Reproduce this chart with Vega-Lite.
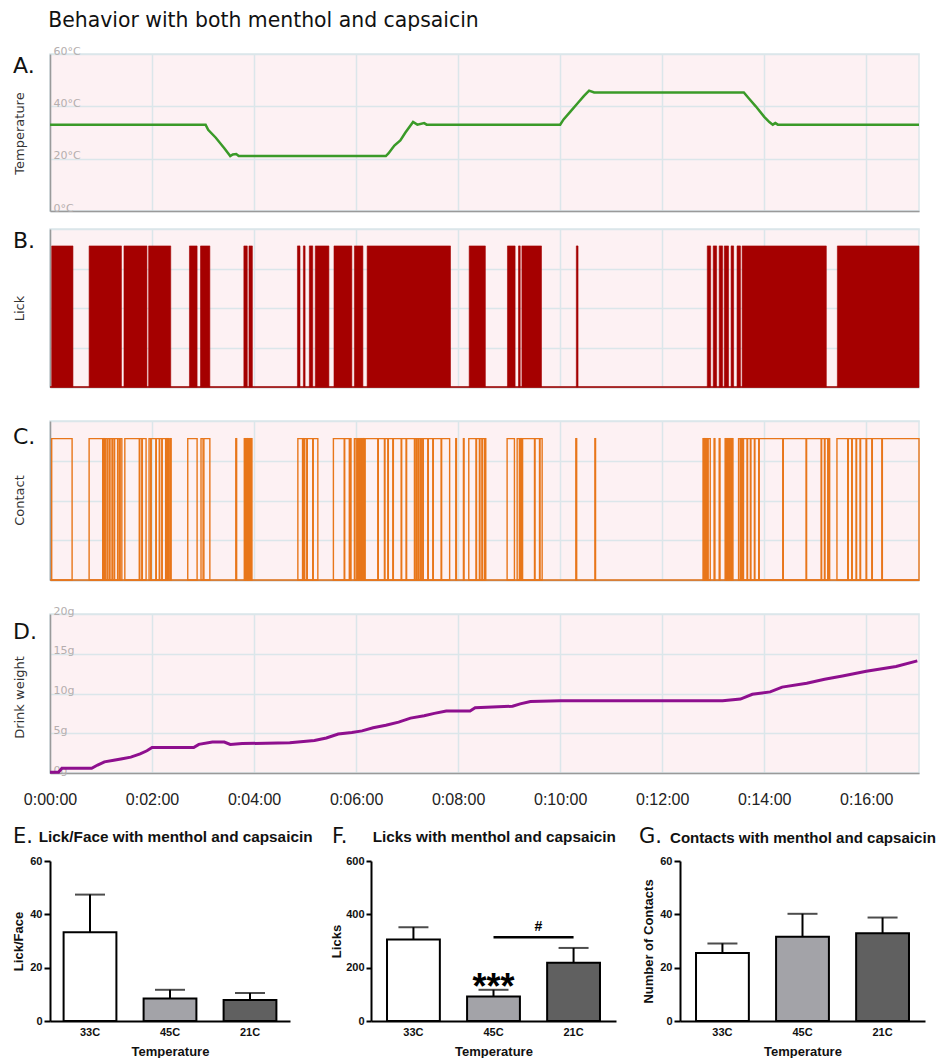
{
  "$schema": "https://vega.github.io/schema/vega-lite/v6.json",
  "padding": {"left": 12, "top": 10, "right": 0, "bottom": 0},
  "background": "white",
  "title": {"text": "Behavior with both menthol and capsaicin", "anchor": "start", "dx": 36, "offset": -3, "baseline": "alphabetic", "fontSize": 20.4, "font": "DejaVu Sans", "fontWeight": "normal", "color": "#111"},
  "config": {"view": {"stroke": null}},
  "datasets": {
    "temperature": [
      {"t": 0, "temp": 33}, {"t": 183, "temp": 33}, {"t": 186, "temp": 31}, {"t": 195, "temp": 28}, {"t": 205, "temp": 24}, {"t": 212, "temp": 21}, {"t": 215, "temp": 21.6}, {"t": 219, "temp": 21.8}, {"t": 222, "temp": 21}, {"t": 395, "temp": 21}, {"t": 398, "temp": 22}, {"t": 405, "temp": 25}, {"t": 412, "temp": 27}, {"t": 418, "temp": 30}, {"t": 427, "temp": 34}, {"t": 432, "temp": 33}, {"t": 440, "temp": 33.6}, {"t": 443, "temp": 33}, {"t": 600, "temp": 33}, {"t": 604, "temp": 35}, {"t": 612, "temp": 38}, {"t": 620, "temp": 41}, {"t": 628, "temp": 44}, {"t": 634, "temp": 46}, {"t": 640, "temp": 45.3}, {"t": 816, "temp": 45.3}, {"t": 822, "temp": 43}, {"t": 830, "temp": 40}, {"t": 840, "temp": 36}, {"t": 846, "temp": 34}, {"t": 850, "temp": 33}, {"t": 853, "temp": 33.6}, {"t": 856, "temp": 33}, {"t": 1022, "temp": 33}
    ],
    "lick": [
      {"s": 2, "e": 27}, {"s": 46, "e": 84}, {"s": 87, "e": 114}, {"s": 116, "e": 142}, {"s": 164, "e": 173}, {"s": 177, "e": 188}, {"s": 228, "e": 232}, {"s": 234, "e": 238}, {"s": 291, "e": 294}, {"s": 298, "e": 300}, {"s": 305, "e": 309}, {"s": 312, "e": 328}, {"s": 334, "e": 355}, {"s": 358, "e": 368}, {"s": 373, "e": 471}, {"s": 493, "e": 512}, {"s": 538, "e": 547}, {"s": 551, "e": 553}, {"s": 555, "e": 578}, {"s": 619, "e": 621}, {"s": 773, "e": 777}, {"s": 780, "e": 784}, {"s": 787, "e": 791}, {"s": 793, "e": 798}, {"s": 801, "e": 804}, {"s": 808, "e": 812}, {"s": 814, "e": 913}, {"s": 926, "e": 1022}
    ],
    "contact": [
      {"s": 2, "e": 26},
      {"s": 46, "e": 62}, {"s": 63, "e": 64}, {"s": 65, "e": 67}, {"s": 68, "e": 70}, {"s": 70.5, "e": 73}, {"s": 73.5, "e": 75.5}, {"s": 76, "e": 79.5}, {"s": 80, "e": 82}, {"s": 82.5, "e": 84.5},
      {"s": 88, "e": 105}, {"s": 105.6, "e": 108}, {"s": 108.6, "e": 113},
      {"s": 116.5, "e": 118.5}, {"s": 119, "e": 124.5}, {"s": 125, "e": 128.5}, {"s": 129, "e": 131.5}, {"s": 132, "e": 136}, {"s": 137, "e": 138}, {"s": 139, "e": 140}, {"s": 141, "e": 142.5},
      {"s": 162, "e": 173},
      {"s": 177.6, "e": 180}, {"s": 181, "e": 188},
      {"s": 218.5, "e": 219.5},
      {"s": 228.5, "e": 230}, {"s": 230.5, "e": 232}, {"s": 232.5, "e": 234}, {"s": 234.5, "e": 236}, {"s": 236.5, "e": 237.5},
      {"s": 291.5, "e": 297}, {"s": 297.6, "e": 299}, {"s": 299.6, "e": 302}, {"s": 302.6, "e": 309}, {"s": 309.6, "e": 315},
      {"s": 333.3, "e": 346}, {"s": 346.6, "e": 352}, {"s": 352.6, "e": 354},
      {"s": 358, "e": 360}, {"s": 361, "e": 362.5}, {"s": 363, "e": 364.5}, {"s": 365, "e": 366.5}, {"s": 367, "e": 368.5}, {"s": 369, "e": 370}, {"s": 370.6, "e": 385.5}, {"s": 386.1, "e": 393.3}, {"s": 393.9, "e": 397.3}, {"s": 397.9, "e": 403.2}, {"s": 403.8, "e": 413}, {"s": 413.6, "e": 418.8}, {"s": 419.4, "e": 428.6}, {"s": 429.2, "e": 431}, {"s": 431.6, "e": 433.4}, {"s": 434, "e": 436}, {"s": 436.6, "e": 438.4}, {"s": 439, "e": 444.3}, {"s": 444.9, "e": 450.2}, {"s": 450.8, "e": 460}, {"s": 460.6, "e": 470},
      {"s": 477.2, "e": 478}, {"s": 486.2, "e": 487},
      {"s": 492.5, "e": 501}, {"s": 501.6, "e": 505}, {"s": 505.6, "e": 508}, {"s": 508.6, "e": 511}, {"s": 511.6, "e": 512.5},
      {"s": 537.6, "e": 546.2},
      {"s": 549.4, "e": 552}, {"s": 552.6, "e": 553.6}, {"s": 554.2, "e": 555.2}, {"s": 555.8, "e": 569.8}, {"s": 570.4, "e": 575.7}, {"s": 576.3, "e": 578.8},
      {"s": 618.4, "e": 619.4}, {"s": 640.8, "e": 641.6},
      {"s": 768, "e": 769.5}, {"s": 770, "e": 771.5}, {"s": 772, "e": 773.5}, {"s": 774, "e": 776.5},
      {"s": 781, "e": 782}, {"s": 787, "e": 788},
      {"s": 794, "e": 795.5}, {"s": 796, "e": 797.5}, {"s": 798, "e": 799.5}, {"s": 800, "e": 801.5}, {"s": 802, "e": 803.2},
      {"s": 809.8, "e": 811.8}, {"s": 812.4, "e": 813.4}, {"s": 814, "e": 815}, {"s": 815.6, "e": 819.8}, {"s": 820.4, "e": 823.7}, {"s": 824.3, "e": 828.4}, {"s": 829, "e": 833.5}, {"s": 834.1, "e": 861.8}, {"s": 862.4, "e": 889.2}, {"s": 889.8, "e": 906.9}, {"s": 907.5, "e": 910.8}, {"s": 911.4, "e": 914.7}, {"s": 915.3, "e": 916.9},
      {"s": 925.5, "e": 938.2}, {"s": 938.8, "e": 942.9}, {"s": 943.5, "e": 948}, {"s": 948.6, "e": 952.7}, {"s": 953.3, "e": 959.8}, {"s": 960.4, "e": 966.5}, {"s": 967.1, "e": 978.3}, {"s": 978.9, "e": 1022}
    ],
    "weight": [
      {"t": 0, "w": 0.1}, {"t": 10, "w": 0.1}, {"t": 14, "w": 0.6}, {"t": 49, "w": 0.6}, {"t": 56, "w": 1.0}, {"t": 64, "w": 1.4}, {"t": 75, "w": 1.6}, {"t": 85, "w": 1.8}, {"t": 95, "w": 2.0}, {"t": 106, "w": 2.4}, {"t": 114, "w": 2.8}, {"t": 120, "w": 3.2}, {"t": 169, "w": 3.2}, {"t": 175, "w": 3.6}, {"t": 191, "w": 3.9}, {"t": 205, "w": 3.9}, {"t": 212, "w": 3.6}, {"t": 226, "w": 3.7}, {"t": 282, "w": 3.8}, {"t": 311, "w": 4.1}, {"t": 325, "w": 4.4}, {"t": 339, "w": 4.9}, {"t": 355, "w": 5.1}, {"t": 367, "w": 5.3}, {"t": 380, "w": 5.7}, {"t": 395, "w": 6.0}, {"t": 410, "w": 6.4}, {"t": 424, "w": 6.9}, {"t": 440, "w": 7.2}, {"t": 452, "w": 7.5}, {"t": 466, "w": 7.8}, {"t": 494, "w": 7.8}, {"t": 500, "w": 8.2}, {"t": 544, "w": 8.4}, {"t": 553, "w": 8.7}, {"t": 565, "w": 9.0}, {"t": 600, "w": 9.1}, {"t": 650, "w": 9.1}, {"t": 720, "w": 9.1}, {"t": 791, "w": 9.1}, {"t": 812, "w": 9.3}, {"t": 826, "w": 9.9}, {"t": 847, "w": 10.2}, {"t": 861, "w": 10.8}, {"t": 890, "w": 11.3}, {"t": 911, "w": 11.8}, {"t": 932, "w": 12.2}, {"t": 960, "w": 12.8}, {"t": 995, "w": 13.4}, {"t": 1020, "w": 14.1}
    ],
    "lickface": [
      {"temp": "33C", "mean": 33.3, "err": 47.4}, {"temp": "45C", "mean": 8.4, "err": 11.7}, {"temp": "21C", "mean": 7.9, "err": 10.5}
    ],
    "licks": [
      {"temp": "33C", "mean": 306, "err": 352}, {"temp": "45C", "mean": 92, "err": 117}, {"temp": "21C", "mean": 218, "err": 274}
    ],
    "contacts": [
      {"temp": "33C", "mean": 25.5, "err": 29.1}, {"temp": "45C", "mean": 31.6, "err": 40.2}, {"temp": "21C", "mean": 32.9, "err": 38.8}
    ]
  },
  "columns": 1,
  "spacing": 17,
  "align": "none",
  "concat": [
    {
      "spacing": 31,
      "vconcat": [
        {
          "spacing": 14,
          "vconcat": [
            {
              "width": 869, "height": 157,
              "view": {"fill": "#fdf1f3", "stroke": "#dbe6ea", "strokeWidth": 1.5},
              "title": {"text": "A.", "anchor": "start", "frame": "group", "offset": -50, "dx": -37, "baseline": "alphabetic", "fontSize": 22, "font": "DejaVu Sans", "fontWeight": "normal", "color": "#111"},
              "data": {"name": "temperature"},
              "mark": {"type": "line", "color": "#3a9a28", "strokeWidth": 2.5},
              "encoding": {
                "x": {"field": "t", "type": "quantitative", "scale": {"domain": [0, 1022], "nice": false, "zero": false},
                      "axis": {"values": [0, 120, 240, 360, 480, 600, 720, 840, 960], "labels": false, "ticks": false, "title": null, "grid": true, "gridColor": "#dbe6ea", "gridWidth": 1.5, "domainColor": "#9a9a9a", "domainWidth": 1.5}},
                "y": {"field": "temp", "type": "quantitative", "scale": {"domain": [0, 60], "nice": false},
                      "axis": {"values": [0, 20, 40, 60], "labelExpr": "datum.value + '°C'", "labelAlign": "left", "labelBaseline": "alphabetic", "labelPadding": -3, "labelDy": -4, "labelColor": "#b5aeae", "labelFont": "DejaVu Sans", "labelFontSize": 11, "labelOverlap": false, "labelBound": false, "ticks": false, "tickSize": 0, "minExtent": 0, "maxExtent": 0, "grid": true, "gridColor": "#dbe6ea", "gridWidth": 1.5, "domainColor": "#9a9a9a", "domainWidth": 1.5, "title": "Temperature", "titleX": -31, "titleY": 79, "titleBaseline": "middle", "titleFont": "DejaVu Sans", "titleFontSize": 13, "titleFontWeight": "normal", "titleColor": "#333"}}
              }
            },
            {
              "width": 869, "height": 158,
              "view": {"fill": "#fdf1f3", "stroke": "#dbe6ea", "strokeWidth": 1.5},
              "title": {"text": "B.", "anchor": "start", "frame": "group", "offset": -41, "dx": -37, "baseline": "alphabetic", "fontSize": 22, "font": "DejaVu Sans", "fontWeight": "normal", "color": "#111"},
              "layer": [
                {
                  "data": {"name": "lick"},
                  "mark": {"type": "rect", "color": "#a50000", "stroke": "#a50000", "strokeWidth": 0.6},
                  "encoding": {
                    "x": {"field": "s", "type": "quantitative", "scale": {"domain": [0, 1022], "nice": false, "zero": false},
                          "axis": {"values": [0, 120, 240, 360, 480, 600, 720, 840, 960], "labels": false, "ticks": false, "title": null, "grid": true, "gridColor": "#dbe6ea", "gridWidth": 1.5, "domainColor": "#9a9a9a", "domainWidth": 1.5}},
                    "x2": {"field": "e"},
                    "y": {"datum": 0, "type": "quantitative", "scale": {"domain": [0, 1.12], "nice": false},
                          "axis": {"values": [0.28, 0.56, 0.84, 1.12], "labels": false, "ticks": false, "minExtent": 0, "maxExtent": 0, "grid": true, "gridColor": "#dbe6ea", "gridWidth": 1.5, "domainColor": "#9a9a9a", "domainWidth": 1.5, "title": "Lick", "titleX": -31, "titleY": 79, "titleBaseline": "middle", "titleFont": "DejaVu Sans", "titleFontSize": 13, "titleFontWeight": "normal", "titleColor": "#333"}},
                    "y2": {"datum": 1}
                  }
                },
                {
                  "data": {"values": [{}]},
                  "mark": {"type": "rule", "color": "#a50000", "strokeWidth": 1.5},
                  "encoding": {"y": {"datum": 0, "type": "quantitative"}}
                }
              ]
            }
          ]
        },
        {
          "spacing": 22,
          "vconcat": [
            {
              "width": 869, "height": 159,
              "view": {"fill": "#fdf1f3", "stroke": "#dbe6ea", "strokeWidth": 1.5},
              "title": {"text": "C.", "anchor": "start", "frame": "group", "offset": -45, "dx": -37, "baseline": "alphabetic", "fontSize": 22, "font": "DejaVu Sans", "fontWeight": "normal", "color": "#111"},
              "layer": [
                {
                  "data": {"values": [{}]},
                  "mark": {"type": "rule", "color": "#e8761a", "strokeWidth": 1.5},
                  "encoding": {"y": {"datum": 0, "type": "quantitative"}}
                },
                {
                  "data": {"name": "contact"},
                  "mark": {"type": "rect", "filled": false, "stroke": "#e8761a", "strokeWidth": 1.4},
                  "encoding": {
                    "x": {"field": "s", "type": "quantitative", "scale": {"domain": [0, 1022], "nice": false, "zero": false},
                          "axis": {"values": [0, 120, 240, 360, 480, 600, 720, 840, 960], "labels": false, "ticks": false, "title": null, "grid": true, "gridColor": "#dbe6ea", "gridWidth": 1.5, "domainColor": "#9a9a9a", "domainWidth": 1.5}},
                    "x2": {"field": "e"},
                    "y": {"datum": 0, "type": "quantitative", "scale": {"domain": [0, 1.125], "nice": false},
                          "axis": {"values": [0.28125, 0.5625, 0.84375, 1.125], "labels": false, "ticks": false, "minExtent": 0, "maxExtent": 0, "grid": true, "gridColor": "#dbe6ea", "gridWidth": 1.5, "domainColor": "#9a9a9a", "domainWidth": 1.5, "title": "Contact", "titleX": -31, "titleY": 79, "titleBaseline": "middle", "titleFont": "DejaVu Sans", "titleFontSize": 13, "titleFontWeight": "normal", "titleColor": "#333"}},
                    "y2": {"datum": 1}
                  }
                }
              ]
            },
            {
              "width": 869, "height": 159,
              "view": {"fill": "#fdf1f3", "stroke": "#dbe6ea", "strokeWidth": 1.5},
              "title": {"text": "D.", "anchor": "start", "frame": "group", "offset": -56, "dx": -37, "baseline": "alphabetic", "fontSize": 22, "font": "DejaVu Sans", "fontWeight": "normal", "color": "#111"},
              "data": {"name": "weight"},
              "mark": {"type": "line", "color": "#8e0f8e", "strokeWidth": 3},
              "encoding": {
                "x": {"field": "t", "type": "quantitative", "scale": {"domain": [0, 1022], "nice": false, "zero": false},
                      "axis": {"values": [0, 120, 240, 360, 480, 600, 720, 840, 960], "labelExpr": "(datum.value < 600 ? '0:0' : '0:') + floor(datum.value / 60) + ':00'", "labelFlush": false, "labelFont": "Liberation Sans", "labelFontSize": 16, "labelColor": "#222", "labelPadding": 18, "ticks": false, "tickSize": 0, "title": null, "grid": true, "gridColor": "#dbe6ea", "gridWidth": 1.5, "domainColor": "#9a9a9a", "domainWidth": 1.5}},
                "y": {"field": "w", "type": "quantitative", "scale": {"domain": [0, 20], "nice": false},
                      "axis": {"values": [0, 5, 10, 15, 20], "labelExpr": "datum.value + 'g'", "labelAlign": "left", "labelBaseline": "alphabetic", "labelPadding": -3, "labelDy": -4, "labelColor": "#b5aeae", "labelFont": "DejaVu Sans", "labelFontSize": 11, "labelOverlap": false, "labelBound": false, "ticks": false, "tickSize": 0, "minExtent": 0, "maxExtent": 0, "grid": true, "gridColor": "#dbe6ea", "gridWidth": 1.5, "domainColor": "#9a9a9a", "domainWidth": 1.5, "title": "Drink weight", "titleX": -31, "titleY": 83, "titleBaseline": "middle", "titleFont": "DejaVu Sans", "titleFontSize": 13, "titleFontWeight": "normal", "titleColor": "#333"}}
              }
            }
          ]
        }
      ]
    },
    {
      "spacing": 17,
      "hconcat": [
        {
          "title": {"text": "Lick/Face with menthol and capsaicin", "anchor": "start", "offset": -32, "dx": 26, "baseline": "alphabetic", "fontSize": 15.3, "font": "Liberation Sans", "fontWeight": "bold", "color": "#111"},
          "vconcat": [
            {
              "width": 240, "height": 160,
              "view": {"stroke": null},
              "title": {"text": "E.", "anchor": "start", "frame": "group", "dx": -37, "offset": -8.6, "baseline": "alphabetic", "fontSize": 21, "font": "DejaVu Sans", "fontWeight": "normal", "color": "#111"},
              "data": {"name": "lickface"},
              "encoding": {
                "x": {"field": "temp", "type": "nominal", "scale": {"domain": ["33C", "45C", "21C"], "paddingInner": 0.34, "paddingOuter": 0.17},
                      "axis": {"labelAngle": 0, "labelFont": "Liberation Sans", "labelFontSize": 11, "labelFontWeight": "bold", "labelColor": "#111", "labelPadding": 5, "ticks": false, "domainColor": "#000", "domainWidth": 2, "title": "Temperature", "titleFont": "Liberation Sans", "titleFontSize": 13, "titleFontWeight": "bold", "titleColor": "#111", "titlePadding": 8}}
              },
              "layer": [
                {
                  "mark": {"type": "rule", "color": "#000", "strokeWidth": 2},
                  "encoding": {
                    "y": {"field": "mean", "type": "quantitative", "scale": {"domain": [0, 60], "nice": false},
                          "axis": {"values": [0, 10, 20, 30, 40, 50, 60], "grid": false, "labelFont": "Liberation Sans", "labelFontSize": 11, "labelFontWeight": "bold", "labelColor": "#111", "labelPadding": 2, "tickColor": "#000", "tickWidth": 2, "tickSize": 6, "domainColor": "#000", "domainWidth": 2, "title": "Lick/Face", "titleFont": "Liberation Sans", "titleFontSize": 13, "titleFontWeight": "bold", "titleColor": "#111", "titlePadding": 4}},
                    "y2": {"field": "err"}
                  }
                },
                {
                  "mark": {"type": "tick", "color": "#000", "thickness": 2, "size": 30},
                  "encoding": {"y": {"field": "err", "type": "quantitative", "title": "Lick/Face"}}
                },
                {
                  "mark": {"type": "bar", "stroke": "#000", "strokeWidth": 2},
                  "encoding": {
                    "y": {"field": "mean", "type": "quantitative", "title": "Lick/Face"},
                    "fill": {"field": "temp", "type": "nominal", "scale": {"domain": ["33C", "45C", "21C"], "range": ["#ffffff", "#a3a3a8", "#606060"]}, "legend": null}
                  }
                }
              ]
            }
          ]
        },
        {
          "spacing": 23,
          "hconcat": [
            {
              "title": {"text": "Licks with menthol and capsaicin", "anchor": "start", "offset": -32, "dx": 42, "baseline": "alphabetic", "fontSize": 15.3, "font": "Liberation Sans", "fontWeight": "bold", "color": "#111"},
              "vconcat": [
                {
                  "width": 245, "height": 160,
                  "view": {"stroke": null},
                  "title": {"text": "F.", "anchor": "start", "frame": "group", "dx": -39, "offset": -8.6, "baseline": "alphabetic", "fontSize": 21, "font": "DejaVu Sans", "fontWeight": "normal", "color": "#111"},
                  "data": {"name": "licks"},
                  "encoding": {
                    "x": {"field": "temp", "type": "nominal", "scale": {"domain": ["33C", "45C", "21C"], "paddingInner": 0.34, "paddingOuter": 0.2},
                          "axis": {"labelAngle": 0, "labelFont": "Liberation Sans", "labelFontSize": 11, "labelFontWeight": "bold", "labelColor": "#111", "labelPadding": 5, "ticks": false, "domainColor": "#000", "domainWidth": 2, "title": "Temperature", "titleFont": "Liberation Sans", "titleFontSize": 13, "titleFontWeight": "bold", "titleColor": "#111", "titlePadding": 8}}
                  },
                  "layer": [
                    {
                      "mark": {"type": "rule", "color": "#000", "strokeWidth": 2},
                      "encoding": {
                        "y": {"field": "mean", "type": "quantitative", "scale": {"domain": [0, 600], "nice": false},
                              "axis": {"values": [0, 100, 200, 300, 400, 500, 600], "grid": false, "labelFont": "Liberation Sans", "labelFontSize": 11, "labelFontWeight": "bold", "labelColor": "#111", "labelPadding": 2, "tickColor": "#000", "tickWidth": 2, "tickSize": 5, "domainColor": "#000", "domainWidth": 2, "title": "Licks", "titleFont": "Liberation Sans", "titleFontSize": 13, "titleFontWeight": "bold", "titleColor": "#111", "titlePadding": 2}},
                        "y2": {"field": "err"}
                      }
                    },
                    {
                      "mark": {"type": "tick", "color": "#000", "thickness": 2, "size": 30},
                      "encoding": {"y": {"field": "err", "type": "quantitative", "title": "Licks"}}
                    },
                    {
                      "mark": {"type": "bar", "stroke": "#000", "strokeWidth": 2},
                      "encoding": {
                        "y": {"field": "mean", "type": "quantitative", "title": "Licks"},
                        "fill": {"field": "temp", "type": "nominal", "scale": {"domain": ["33C", "45C", "21C"], "range": ["#ffffff", "#a3a3a8", "#606060"]}, "legend": null}
                      }
                    },
                    {
                      "data": {"values": [{"a": "45C", "b": "21C", "y": 314}]},
                      "mark": {"type": "rule", "color": "#000", "strokeWidth": 2.5},
                      "encoding": {"x": {"field": "a", "type": "nominal"}, "x2": {"field": "b"}, "y": {"field": "y", "type": "quantitative", "title": "Licks"}}
                    },
                    {
                      "data": {"values": [{"a": "45C", "y": 336, "label": "#"}]},
                      "mark": {"type": "text", "fontSize": 14, "fontWeight": "bold", "font": "Liberation Sans", "baseline": "alphabetic", "dx": 45, "color": "#000"},
                      "encoding": {"x": {"field": "a", "type": "nominal"}, "y": {"field": "y", "type": "quantitative", "title": "Licks"}, "text": {"field": "label"}}
                    },
                    {
                      "data": {"values": [{"a": "45C", "y": 83, "label": "***"}]},
                      "mark": {"type": "text", "fontSize": 36, "fontWeight": "bold", "font": "Liberation Sans", "baseline": "alphabetic", "color": "#000"},
                      "encoding": {"x": {"field": "a", "type": "nominal"}, "y": {"field": "y", "type": "quantitative", "title": "Licks"}, "text": {"field": "label"}}
                    }
                  ]
                }
              ]
            },
            {
              "title": {"text": "Contacts with menthol and capsaicin", "anchor": "start", "offset": -32, "dx": 31, "baseline": "alphabetic", "fontSize": 15.1, "font": "Liberation Sans", "fontWeight": "bold", "color": "#111"},
              "vconcat": [
                {
                  "width": 245, "height": 160,
                  "view": {"stroke": null},
                  "title": {"text": "G.", "anchor": "start", "frame": "group", "dx": -41, "offset": -8.6, "baseline": "alphabetic", "fontSize": 21, "font": "DejaVu Sans", "fontWeight": "normal", "color": "#111"},
                  "data": {"name": "contacts"},
                  "encoding": {
                    "x": {"field": "temp", "type": "nominal", "scale": {"domain": ["33C", "45C", "21C"], "paddingInner": 0.34, "paddingOuter": 0.2},
                          "axis": {"labelAngle": 0, "labelFont": "Liberation Sans", "labelFontSize": 11, "labelFontWeight": "bold", "labelColor": "#111", "labelPadding": 5, "ticks": false, "domainColor": "#000", "domainWidth": 2, "title": "Temperature", "titleFont": "Liberation Sans", "titleFontSize": 13, "titleFontWeight": "bold", "titleColor": "#111", "titlePadding": 8}}
                  },
                  "layer": [
                    {
                      "mark": {"type": "rule", "color": "#000", "strokeWidth": 2},
                      "encoding": {
                        "y": {"field": "mean", "type": "quantitative", "scale": {"domain": [0, 60], "nice": false},
                              "axis": {"values": [0, 10, 20, 30, 40, 50, 60], "grid": false, "labelFont": "Liberation Sans", "labelFontSize": 11, "labelFontWeight": "bold", "labelColor": "#111", "labelPadding": 2, "tickColor": "#000", "tickWidth": 2, "tickSize": 6, "domainColor": "#000", "domainWidth": 2, "title": "Number of Contacts", "titleFont": "Liberation Sans", "titleFontSize": 13, "titleFontWeight": "bold", "titleColor": "#111", "titlePadding": 4}},
                        "y2": {"field": "err"}
                      }
                    },
                    {
                      "mark": {"type": "tick", "color": "#000", "thickness": 2, "size": 30},
                      "encoding": {"y": {"field": "err", "type": "quantitative", "title": "Number of Contacts"}}
                    },
                    {
                      "mark": {"type": "bar", "stroke": "#000", "strokeWidth": 2},
                      "encoding": {
                        "y": {"field": "mean", "type": "quantitative", "title": "Number of Contacts"},
                        "fill": {"field": "temp", "type": "nominal", "scale": {"domain": ["33C", "45C", "21C"], "range": ["#ffffff", "#a3a3a8", "#606060"]}, "legend": null}
                      }
                    }
                  ]
                }
              ]
            }
          ]
        }
      ]
    }
  ]
}
